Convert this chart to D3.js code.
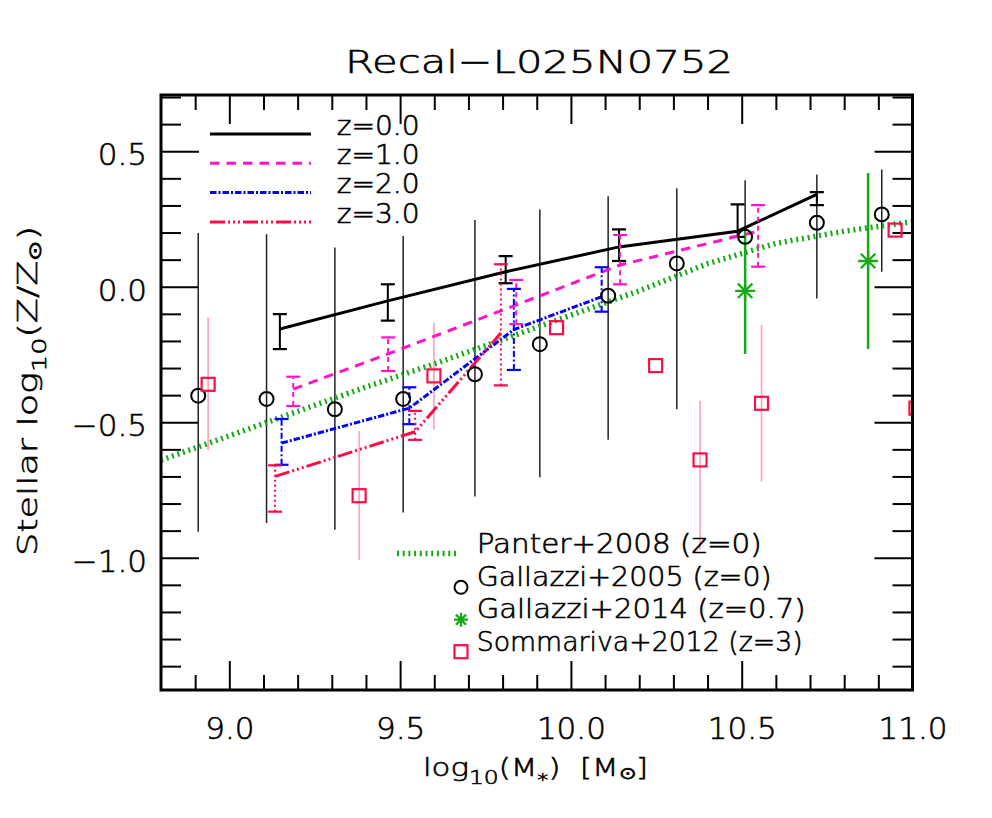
<!DOCTYPE html>
<html><head><meta charset="utf-8">
<script src="https://cdn.jsdelivr.net/npm/d3@7"></script>
<style>
body{margin:0;background:#fff}
svg{display:block}
text{font-family:"DejaVu Sans",sans-serif;font-weight:200;fill:#000;stroke:#000;stroke-width:0.6px}
</style>
</head><body>
<svg id="c" width="992" height="818"></svg>
<script>
// ---------------- data ----------------
const xMajorTicks = [9.0, 9.5, 10.0, 10.5, 11.0];
const xTickLabels = ["9.0", "9.5", "10.0", "10.5", "11.0"];
const xMinorTicks = [8.9, 9.1, 9.2, 9.3, 9.4, 9.6, 9.7, 9.8, 9.9, 10.1, 10.2, 10.3, 10.4, 10.6, 10.7, 10.8, 10.9];
const yMajorTicks = [-1.0, -0.5, 0.0, 0.5];
const yTickLabels = ["\u22121.0", "\u22120.5", "0.0", "0.5"];
const yMinorTicks = [-1.4, -1.3, -1.2, -1.1, -0.9, -0.8, -0.7, -0.6, -0.4, -0.3, -0.2, -0.1, 0.1, 0.2, 0.3, 0.4, 0.6, 0.7];

// EAGLE Recal-L025N0752 medians (z = 0, 1, 2, 3) with percentile error bars
const z0Mass = [9.148, 9.464, 9.809, 10.141, 10.488, 10.72];
const z0Med  = [-0.156, -0.052, 0.055, 0.147, 0.205, 0.341];
const z0Lo   = [-0.23, -0.125, 0.013, 0.095, 0.184, 0.301];
const z0Hi   = [-0.101, 0.009, 0.113, 0.212, 0.304, 0.349];

const z1Mass = [9.187, 9.465, 9.84, 10.144, 10.548];
const z1Med  = [-0.378, -0.248, -0.067, 0.08, 0.205];
const z1Lo   = [-0.44, -0.311, -0.138, 0.009, 0.074];
const z1Hi   = [-0.332, -0.187, 0.025, 0.191, 0.301];

const z2Mass = [9.153, 9.527, 9.833, 10.09];
const z2Med  = [-0.577, -0.448, -0.158, -0.037];
const z2Lo   = [-0.657, -0.507, -0.307, -0.092];
const z2Hi   = [-0.488, -0.371, -0.008, 0.072];

const z3Mass = [9.134, 9.544, 9.795];
const z3Med  = [-0.70, -0.535, -0.171];
const z3Lo   = [-0.83, -0.565, -0.364];
const z3Hi   = [-0.659, -0.458, 0.083];

// Panter+2008 (z=0)
const panterMass = [8.8, 9.0, 9.2, 9.4, 9.6, 9.8, 10.0, 10.2, 10.4, 10.6, 10.8, 11.0];
const panterZ    = [-0.64, -0.55, -0.46, -0.37, -0.285, -0.195, -0.105, -0.015, 0.085, 0.16, 0.205, 0.24];

// Gallazzi+2005 (z=0)
const gal05Mass = [8.909, 9.109, 9.309, 9.509, 9.719, 9.909, 10.109, 10.31, 10.51, 10.72, 10.91];
const gal05Z    = [-0.402, -0.414, -0.452, -0.414, -0.323, -0.212, -0.033, 0.086, 0.184, 0.236, 0.267];
const gal05Lo   = [-0.904, -0.872, -0.897, -0.833, -0.774, -0.703, -0.565, -0.452, -0.03, -0.043, 0.055];
const gal05Hi   = [0.198, 0.194, 0.145, 0.187, 0.246, 0.285, 0.334, 0.363, 0.393, 0.414, 0.433];

// Gallazzi+2014 (z=0.7)
const gal14Mass = [10.51, 10.87];
const gal14Z    = [-0.015, 0.095];
const gal14Lo   = [-0.248, -0.23];
const gal14Hi   = [0.221, 0.42];

// Sommariva+2012 (z=3)
const somMass = [8.938, 9.38, 9.599, 9.958, 10.248, 10.378, 10.558, 10.949, 11.01];
const somZ    = [-0.36, -0.771, -0.329, -0.151, -0.291, -0.639, -0.43, 0.209, -0.448];
const somLo   = [-0.602, -1.008, -0.528, -0.151, -0.291, -0.971, -0.719, 0.209, -0.448];
const somHi   = [-0.113, -0.532, -0.133, -0.151, -0.291, -0.421, -0.141, 0.209, -0.448];

const modelLabels = ["z=0.0", "z=1.0", "z=2.0", "z=3.0"];
const obsLabels = ["Panter+2008 (z=0)", "Gallazzi+2005 (z=0)", "Gallazzi+2014 (z=0.7)", "Sommariva+2012 (z=3)"];

// ---------------- styles ----------------
const C_MAG = "#ff14c8", C_BLUE = "#0000ff", C_RED = "#ff0a46", C_GREEN = "#16aa16",
      C_SQ = "#f5104a", C_PINK = "#ffa0b6";
const models = [
  {label: modelLabels[0], mass: z0Mass, med: z0Med, lo: z0Lo, hi: z0Hi, color: "#000", dash: null, edash: null},
  {label: modelLabels[1], mass: z1Mass, med: z1Med, lo: z1Lo, hi: z1Hi, color: C_MAG, dash: "9.5 7", edash: "5 4"},
  {label: modelLabels[2], mass: z2Mass, med: z2Med, lo: z2Lo, hi: z2Hi, color: C_BLUE, dash: "6.5 2 2 2", edash: "6 2.5 2 2.5"},
  {label: modelLabels[3], mass: z3Mass, med: z3Med, lo: z3Lo, hi: z3Hi, color: C_RED, dash: "15 3 2 3 2 3 2 3", edash: "2 3"}
];

// ---------------- layout ----------------
const svg = d3.select("#c");
const L = 161, R = 912.5, T = 95, B = 690;
const x = d3.scaleLinear().domain([8.8, 11.0]).range([L, R]);
const y = d3.scaleLinear().domain([-1.488, 0.7075]).range([B, T]);

svg.append("defs").append("clipPath").attr("id", "clip")
  .append("rect").attr("x", L).attr("y", T).attr("width", R - L).attr("height", B - T);

// ---------------- axes ----------------
function ticks(gen, tv, size, tr, labels, pad) {
  gen.tickValues(tv).tickSize(size).tickSizeOuter(0);
  if (labels) gen.tickFormat((d, i) => labels[i]).tickPadding(pad); else gen.tickFormat("");
  const g = svg.append("g").attr("transform", tr).call(gen)
    .attr("font-family", "DejaVu Sans").attr("font-size", 31);
  g.select(".domain").remove();
  g.selectAll(".tick line").attr("stroke", "#000").attr("stroke-width", 2);
  g.selectAll(".tick text").attr("fill", "#000");
  return g;
}
ticks(d3.axisBottom(x), xMinorTicks, -15, `translate(0,${B})`);
ticks(d3.axisBottom(x), xMajorTicks, -29, `translate(0,${B})`, xTickLabels, 27);
ticks(d3.axisTop(x), xMinorTicks, -15, `translate(0,${T})`);
ticks(d3.axisTop(x), xMajorTicks, -29, `translate(0,${T})`);
ticks(d3.axisLeft(y), yMinorTicks, -20, `translate(${L},0)`);
const yl = ticks(d3.axisLeft(y), yMajorTicks, -38, `translate(${L},0)`, yTickLabels, 14);
yl.selectAll(".tick text").attr("dy", "0.44em");
ticks(d3.axisRight(y), yMinorTicks, -20, `translate(${R},0)`);
ticks(d3.axisRight(y), yMajorTicks, -38, `translate(${R},0)`);

// ---------------- data layer ----------------
const plot = svg.append("g").attr("clip-path", "url(#clip)");
const line = d3.line().x(d => x(d[0])).y(d => y(d[1]));

// Gallazzi+2005 error lines
plot.append("g").selectAll("line").data(gal05Mass).join("line")
  .attr("x1", d => x(d)).attr("x2", d => x(d))
  .attr("y1", (d, i) => y(gal05Lo[i])).attr("y2", (d, i) => y(gal05Hi[i]))
  .attr("stroke", "#222").attr("stroke-width", 1.5);
// Sommariva error lines
plot.append("g").selectAll("line").data(somMass).join("line")
  .attr("x1", d => x(d)).attr("x2", d => x(d))
  .attr("y1", (d, i) => y(somLo[i])).attr("y2", (d, i) => y(somHi[i]))
  .attr("stroke", C_PINK).attr("stroke-width", 1.6);
// Gallazzi+2014 error lines
plot.append("g").selectAll("line").data(gal14Mass).join("line")
  .attr("x1", d => x(d)).attr("x2", d => x(d))
  .attr("y1", (d, i) => y(gal14Lo[i])).attr("y2", (d, i) => y(gal14Hi[i]))
  .attr("stroke", C_GREEN).attr("stroke-width", 2.5);

// Panter line
plot.append("path").datum(panterMass.map((m, i) => [m, panterZ[i]]))
  .attr("d", line).attr("fill", "none").attr("stroke", C_GREEN)
  .attr("stroke-width", 5.5).attr("stroke-dasharray", "2 3.8");

// model lines + error bars
models.forEach(s => {
  const g = plot.append("g");
  g.append("path").datum(s.mass.map((m, i) => [m, s.med[i]]))
    .attr("d", line).attr("fill", "none").attr("stroke", s.color)
    .attr("stroke-width", 3).attr("stroke-dasharray", s.dash);
  g.selectAll(".ev").data(s.mass).join("line").attr("class", "ev")
    .attr("x1", d => x(d)).attr("x2", d => x(d))
    .attr("y1", (d, i) => y(s.lo[i])).attr("y2", (d, i) => y(s.hi[i]))
    .attr("stroke", s.color).attr("stroke-width", 2).attr("stroke-dasharray", s.edash);
  ["lo", "hi"].forEach(k => {
    g.selectAll(".c" + k).data(s.mass).join("line").attr("class", "c" + k)
      .attr("x1", d => x(d) - 7).attr("x2", d => x(d) + 7)
      .attr("y1", (d, i) => y(s[k][i])).attr("y2", (d, i) => y(s[k][i]))
      .attr("stroke", s.color).attr("stroke-width", 2.2);
  });
});

// symbols
function circleSym(g, cx, cy, r) {
  g.append("circle").attr("cx", cx).attr("cy", cy).attr("r", r)
    .attr("fill", "none").attr("stroke", "#000").attr("stroke-width", 2);
}
function squareSym(g, cx, cy, s) {
  g.append("rect").attr("x", cx - s / 2).attr("y", cy - s / 2).attr("width", s).attr("height", s)
    .attr("fill", "none").attr("stroke", C_SQ).attr("stroke-width", 2.2);
}
function starSym(g, cx, cy, a) {
  const b = a * 0.72;
  g.append("path").attr("d",
    `M${cx - a},${cy}H${cx + a}M${cx},${cy - a}V${cy + a}` +
    `M${cx - b},${cy - b}L${cx + b},${cy + b}M${cx - b},${cy + b}L${cx + b},${cy - b}`)
    .attr("stroke", C_GREEN).attr("stroke-width", 2.3).attr("fill", "none");
}
gal05Mass.forEach((m, i) => circleSym(plot, x(m), y(gal05Z[i]), 7));
somMass.forEach((m, i) => squareSym(plot, x(m), y(somZ[i]), 13));
gal14Mass.forEach((m, i) => starSym(plot, x(m), y(gal14Z[i]), 10));

// frame
svg.append("rect").attr("x", L).attr("y", T).attr("width", R - L).attr("height", B - T)
  .attr("fill", "none").attr("stroke", "#000").attr("stroke-width", 3);

// ---------------- legends ----------------
const lg = svg.append("g");
models.forEach((s, i) => {
  const ly = 134 + i * 29.3;
  lg.append("line").attr("x1", 210).attr("x2", 311).attr("y1", ly).attr("y2", ly)
    .attr("stroke", s.color).attr("stroke-width", 3).attr("stroke-dasharray", s.dash);
  lg.append("text").attr("x", 336.7).attr("y", ly + 0.6).attr("font-size", 26.5)
    .attr("textLength", 83).attr("lengthAdjust", "spacingAndGlyphs").text(s.label);
});

const obsW = [285, 295, 329, 326];
obsLabels.forEach((t, i) => {
  lg.append("text").attr("x", 476.7).attr("y", 553.3 + i * 32.5).attr("font-size", 26)
    .attr("textLength", obsW[i]).attr("lengthAdjust", "spacingAndGlyphs").text(t);
});
lg.append("line").attr("x1", 397).attr("x2", 459).attr("y1", 553.5).attr("y2", 553.5)
  .attr("stroke", C_GREEN).attr("stroke-width", 5.3).attr("stroke-dasharray", "2 3.7");
circleSym(lg, 461, 587.3, 6.5);
starSym(lg, 461, 619.7, 7);
squareSym(lg, 461, 651.7, 13);

// ---------------- titles ----------------
svg.append("text").attr("x", 539).attr("y", 73).attr("text-anchor", "middle")
  .attr("font-size", 32).attr("textLength", 388).attr("lengthAdjust", "spacingAndGlyphs")
  .text("Recal\u2212L025N0752");

const xt = svg.append("text").attr("x", 535.5).attr("y", 776).attr("text-anchor", "middle")
  .attr("font-size", 25).attr("textLength", 225).attr("lengthAdjust", "spacingAndGlyphs");
xt.append("tspan").text("log");
xt.append("tspan").attr("font-size", 19).attr("dy", 8).text("10");
xt.append("tspan").attr("font-size", 25).attr("dy", -8).text("(M");
xt.append("tspan").attr("font-size", 18).attr("dy", 10).text("*");
xt.append("tspan").attr("font-size", 25).attr("dy", -10).text(")\u00a0\u00a0[M");
xt.append("tspan").attr("font-size", 17).attr("dy", 3).text("\u2299");
xt.append("tspan").attr("font-size", 25).attr("dy", -3).text("]");

const yt = svg.append("text").attr("transform", "translate(37,391) rotate(-90)")
  .attr("text-anchor", "middle").attr("font-size", 27)
  .attr("textLength", 330).attr("lengthAdjust", "spacingAndGlyphs");
yt.append("tspan").text("Stellar log");
yt.append("tspan").attr("font-size", 20).attr("dy", 9).text("10");
yt.append("tspan").attr("font-size", 27).attr("dy", -9).text("(Z/Z");
yt.append("tspan").attr("font-size", 18).attr("dy", 4).text("\u2299");
yt.append("tspan").attr("font-size", 27).attr("dy", -4).text(")");
</script>
</body></html>
